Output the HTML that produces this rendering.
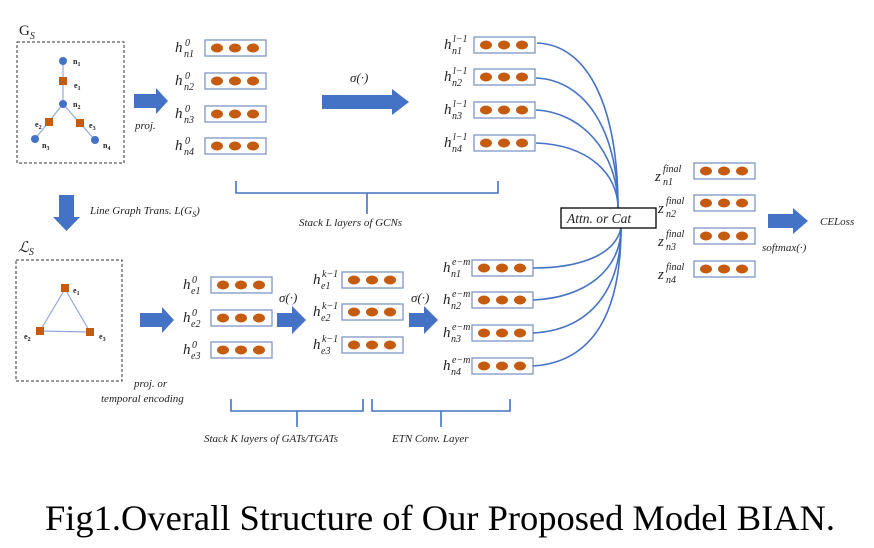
<!DOCTYPE html>
<html><head><meta charset="utf-8"><style>
html,body{margin:0;padding:0;background:#fff;}
svg{display:block;}
text{font-family:"Liberation Serif",serif;font-style:italic;fill:#222;}
.m{font-size:12px}
.h{font-size:15px}
.s{font-size:10px}
.b{font-style:normal;font-weight:bold;font-size:8px}
</style></head><body>
<svg width="874" height="548" viewBox="0 0 874 548" xmlns="http://www.w3.org/2000/svg">
<defs>
<g id="bx">
<rect x="0" y="0" width="61" height="16" fill="#fff" stroke="#7f96c6" stroke-width="1.3"/>
<ellipse cx="12" cy="8" rx="6" ry="4.5" fill="#c55a11"/>
<ellipse cx="30" cy="8" rx="6" ry="4.5" fill="#c55a11"/>
<ellipse cx="48" cy="8" rx="6" ry="4.5" fill="#c55a11"/>
</g>
<polygon id="ar" points="0,-7 22,-7 22,-13 34,0 22,13 22,7 0,7" fill="#4472c4"/>
</defs>

<!-- Gs -->
<text x="19" y="35" style="font-style:normal;font-size:15px">G<tspan dy="4" style="font-size:10px;font-style:italic">S</tspan></text>
<rect x="17" y="42" width="107" height="121" fill="none" stroke="#333" stroke-dasharray="3,2" stroke-width="1"/>
<g stroke="#8faadc" stroke-width="1.2">
<line x1="63" y1="61" x2="63" y2="104"/><line x1="63" y1="104" x2="35" y2="139"/><line x1="63" y1="104" x2="95" y2="140"/>
</g>
<g fill="#4472c4"><circle cx="63" cy="61" r="4"/><circle cx="63" cy="104" r="4"/><circle cx="35" cy="139" r="4"/><circle cx="95" cy="140" r="4"/></g>
<g fill="#c55a11"><rect x="59" y="77" width="8" height="8"/><rect x="45" y="118" width="8" height="8"/><rect x="76" y="119" width="8" height="8"/></g>
<text class="b" x="73" y="64">n<tspan dy="2" style="font-size:6px">1</tspan></text>
<text class="b" x="74" y="88">e<tspan dy="2" style="font-size:6px">1</tspan></text>
<text class="b" x="73" y="107">n<tspan dy="2" style="font-size:6px">2</tspan></text>
<text class="b" x="35" y="127">e<tspan dy="2" style="font-size:6px">2</tspan></text>
<text class="b" x="89" y="128">e<tspan dy="2" style="font-size:6px">3</tspan></text>
<text class="b" x="42" y="148">n<tspan dy="2" style="font-size:6px">3</tspan></text>
<text class="b" x="103" y="148">n<tspan dy="2" style="font-size:6px">4</tspan></text>

<use href="#ar" x="134" y="101"/>
<text class="m" x="135" y="129" style="font-size:11px">proj.</text>

<!-- h0 node boxes -->
<use href="#bx" x="205" y="40"/><use href="#bx" x="205" y="73"/><use href="#bx" x="205" y="106"/><use href="#bx" x="205" y="138"/>
<g>
<text class="h" x="175" y="52">h</text><text class="s" x="185" y="46">0</text><text class="s" x="184" y="57">n1</text>
<text class="h" x="175" y="85">h</text><text class="s" x="185" y="79">0</text><text class="s" x="184" y="90">n2</text>
<text class="h" x="175" y="118">h</text><text class="s" x="185" y="112">0</text><text class="s" x="184" y="123">n3</text>
<text class="h" x="175" y="150">h</text><text class="s" x="185" y="144">0</text><text class="s" x="184" y="155">n4</text>
</g>

<text class="m" x="350" y="82" style="font-size:13px">σ(·)</text>
<polygon points="322,95 392,95 392,89 409,102 392,115 392,109 322,109" fill="#4472c4"/>

<!-- hl-1 -->
<use href="#bx" x="474" y="37"/><use href="#bx" x="474" y="69"/><use href="#bx" x="474" y="102"/><use href="#bx" x="474" y="135"/>
<g>
<text class="h" x="444" y="49">h</text><text class="s" x="453" y="42">l−1</text><text class="s" x="452" y="54">n1</text>
<text class="h" x="444" y="81">h</text><text class="s" x="453" y="74">l−1</text><text class="s" x="452" y="86">n2</text>
<text class="h" x="444" y="114">h</text><text class="s" x="453" y="107">l−1</text><text class="s" x="452" y="119">n3</text>
<text class="h" x="444" y="147">h</text><text class="s" x="453" y="140">l−1</text><text class="s" x="452" y="152">n4</text>
</g>

<!-- bracket top -->
<path d="M236,181 V193 H367 V214 M367,193 H498 V181" fill="none" stroke="#4472c4" stroke-width="1.6"/>
<text class="m" x="299" y="226" style="font-size:11px">Stack L layers of GCNs</text>

<!-- down arrow -->
<polygon points="59,195 74,195 74,217 80,217 66.5,231 53,217 59,217" fill="#4472c4"/>
<text class="m" x="90" y="214" style="font-size:11px">Line Graph Trans. L(G<tspan style="font-size:8px" dy="3">S</tspan><tspan dy="-3">)</tspan></text>

<!-- Ls -->
<text x="18" y="252" style="font-size:15px">ℒ<tspan dy="3" style="font-size:10px">S</tspan></text>
<rect x="16" y="260" width="106" height="121" fill="none" stroke="#333" stroke-dasharray="3,2" stroke-width="1"/>
<polygon points="65,289 40,331 90,332" fill="none" stroke="#8faadc" stroke-width="1.2"/>
<g fill="#c55a11"><rect x="61" y="284" width="8" height="8"/><rect x="36" y="327" width="8" height="8"/><rect x="86" y="328" width="8" height="8"/></g>
<text class="b" x="73" y="293">e<tspan dy="2" style="font-size:6px">1</tspan></text>
<text class="b" x="24" y="339">e<tspan dy="2" style="font-size:6px">2</tspan></text>
<text class="b" x="99" y="339">e<tspan dy="2" style="font-size:6px">3</tspan></text>

<use href="#ar" x="140" y="320"/>
<text class="m" x="134" y="387" style="font-size:11px">proj. or</text>
<text class="m" x="101" y="402" style="font-size:11px">temporal encoding</text>

<use href="#bx" x="211" y="277"/><use href="#bx" x="211" y="310"/><use href="#bx" x="211" y="342"/>
<g>
<text class="h" x="183" y="289">h</text><text class="s" x="192" y="283">0</text><text class="s" x="191" y="294">e1</text>
<text class="h" x="183" y="322">h</text><text class="s" x="192" y="316">0</text><text class="s" x="191" y="327">e2</text>
<text class="h" x="183" y="354">h</text><text class="s" x="192" y="348">0</text><text class="s" x="191" y="359">e3</text>
</g>

<text class="m" x="279" y="302" style="font-size:13px">σ(·)</text>
<polygon points="277,313 292,313 292,306 306,320 292,334 292,327 277,327" fill="#4472c4"/>

<use href="#bx" x="342" y="272"/><use href="#bx" x="342" y="304"/><use href="#bx" x="342" y="337"/>
<g>
<text class="h" x="313" y="284">h</text><text class="s" x="322" y="277">k−1</text><text class="s" x="321" y="289">e1</text>
<text class="h" x="313" y="316">h</text><text class="s" x="322" y="309">k−1</text><text class="s" x="321" y="321">e2</text>
<text class="h" x="313" y="349">h</text><text class="s" x="322" y="342">k−1</text><text class="s" x="321" y="354">e3</text>
</g>

<text class="m" x="411" y="302" style="font-size:13px">σ(·)</text>
<polygon points="409,313 424,313 424,306 438,320 424,334 424,327 409,327" fill="#4472c4"/>

<use href="#bx" x="472" y="260"/><use href="#bx" x="472" y="292"/><use href="#bx" x="472" y="325"/><use href="#bx" x="472" y="358"/>
<g>
<text class="h" x="443" y="272">h</text><text class="s" x="452" y="265">e−m</text><text class="s" x="451" y="277">n1</text>
<text class="h" x="443" y="304">h</text><text class="s" x="452" y="297">e−m</text><text class="s" x="451" y="309">n2</text>
<text class="h" x="443" y="337">h</text><text class="s" x="452" y="330">e−m</text><text class="s" x="451" y="342">n3</text>
<text class="h" x="443" y="370">h</text><text class="s" x="452" y="363">e−m</text><text class="s" x="451" y="375">n4</text>
</g>

<!-- bottom brackets -->
<path d="M231,399 V411 H297 V427 M297,411 H363 V399" fill="none" stroke="#4472c4" stroke-width="1.6"/>
<path d="M372,399 V411 H441 V427 M441,411 H510 V399" fill="none" stroke="#4472c4" stroke-width="1.6"/>
<text class="m" x="204" y="442" style="font-size:11px">Stack K layers of GATs/TGATs</text>
<text class="m" x="392" y="442" style="font-size:11px">ETN Conv. Layer</text>

<!-- curves -->
<g fill="none" stroke="#4472c4" stroke-width="1.6">
<path d="M537,43 C590,45 618,110 618,208"/>
<path d="M536,78 C585,80 618,130 618,208"/>
<path d="M536,110 C580,112 618,150 618,208"/>
<path d="M536,143 C590,145 618,175 618,208"/>
<path d="M533,268 C580,268 615,255 621,228"/>
<path d="M533,300 C585,298 621,270 621,228"/>
<path d="M533,333 C590,330 621,290 621,228"/>
<path d="M533,366 C595,362 621,310 621,228"/>
</g>
<rect x="561" y="208" width="95" height="20" fill="#fff" stroke="#000" stroke-width="1.3"/>
<text x="567" y="223" style="font-size:13.5px">Attn. or Cat</text>

<!-- z final -->
<use href="#bx" x="694" y="163"/><use href="#bx" x="694" y="195"/><use href="#bx" x="694" y="228"/><use href="#bx" x="694" y="261"/>
<g>
<text class="h" x="655" y="181">z</text><text class="s" x="663" y="172">final</text><text class="s" x="663" y="185">n1</text>
<text class="h" x="658" y="213">z</text><text class="s" x="666" y="204">final</text><text class="s" x="666" y="217">n2</text>
<text class="h" x="658" y="246">z</text><text class="s" x="666" y="237">final</text><text class="s" x="666" y="250">n3</text>
<text class="h" x="658" y="279">z</text><text class="s" x="666" y="270">final</text><text class="s" x="666" y="283">n4</text>
</g>

<polygon points="768,214 793,214 793,208 808,221 793,234 793,228 768,228" fill="#4472c4"/>
<text class="m" x="820" y="225" style="font-size:11px">CELoss</text>
<text class="m" x="762" y="251" style="font-size:11px">softmax(·)</text>

<text x="440" y="530" text-anchor="middle" textLength="790" lengthAdjust="spacingAndGlyphs" style="font-style:normal;font-size:36px;fill:#000">Fig1.Overall Structure of Our Proposed Model BIAN.</text>
</svg>
</body></html>
